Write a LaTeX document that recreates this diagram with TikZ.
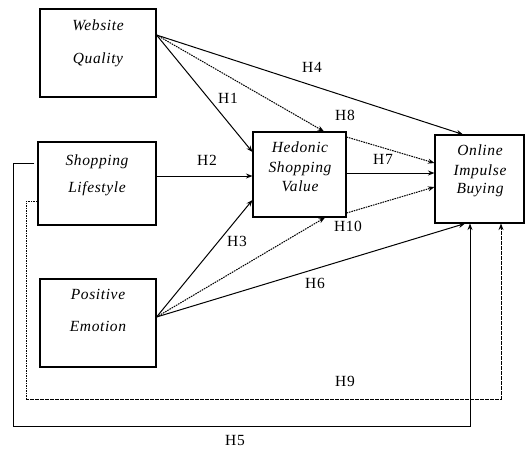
\documentclass[tikz,border=0pt]{standalone}
\usepackage{fontspec}
\setmainfont{Liberation Serif}[LetterSpace=4]
\usetikzlibrary{arrows.meta,calc}
\begin{document}
\begin{tikzpicture}[x=1pt,y=-1pt,
  box/.style={draw=black,line width=1.1pt,inner sep=0pt},
  btxt/.style={anchor=base,inner sep=0pt,font=\fontsize{15.5}{18}\selectfont\itshape},
  hlab/.style={inner sep=0pt,font=\fontsize{15.5}{18}\selectfont},
  conn/.style={line width=1pt,-{Stealth[length=6.5pt,width=5pt]}},
  dconn/.style={line width=1pt,dash pattern=on 1.6pt off 0.9pt,-{Stealth[length=6.5pt,width=5pt]}}]
\useasboundingbox[fill=white] (0,0) rectangle (526,448);
% boxes
\node[box,minimum width=116pt,minimum height=88pt] (wq) at (98,53) {};
\node[box,minimum width=118pt,minimum height=83pt] (sl) at (97,183.5) {};
\node[box,minimum width=116pt,minimum height=88pt] (pe) at (98,323) {};
\node[box,minimum width=93pt,minimum height=85pt] (hsv) at (299.5,174.5) {};
\node[box,minimum width=89pt,minimum height=88pt] (oib) at (479.5,179) {};
% box texts
\node[btxt] (wq1) at (98,30) {Website};
\node[btxt] (wq2) at (98,63) {Quality};
\node[btxt] (sl1) at (97,165) {Shopping};
\node[btxt] (sl2) at (97,192) {Lifestyle};
\node[btxt] (pe1) at (98,299) {Positive};
\node[btxt] (pe2) at (98,331) {Emotion};
\node[btxt] (h1t) at (300,152) {Hedonic};
\node[btxt] (h2t) at (300,172) {Shopping};
\node[btxt] (h3t) at (300,191) {Value};
\node[btxt] (o1t) at (480,155) {Online};
\node[btxt] (o2t) at (480,175) {Impulse};
\node[btxt] (o3t) at (480,193) {Buying};
% connectors from Website Quality
\draw[conn] ([yshift=18pt]wq.east) -- ([yshift=22.5pt]hsv.west);
\draw[dconn] ([yshift=18pt]wq.east) -- ([xshift=24.5pt]hsv.north);
\draw[conn] ([yshift=18pt]wq.east) -- ([xshift=-16.5pt]oib.north);
% from Hedonic
\draw[dconn] ([yshift=37.5pt]hsv.east) -- ([yshift=16pt]oib.west);
\draw[conn] ([yshift=1.5pt]hsv.east) -- ([yshift=6pt]oib.west);
\draw[dconn] ([yshift=-38.5pt]hsv.east) -- ([yshift=-8pt]oib.west);
% from Shopping Lifestyle
\draw[conn] ([yshift=7.5pt]sl.east) -- ([yshift=-1.5pt]hsv.west);
% from Positive Emotion
\draw[conn] ([yshift=6pt]pe.east) -- ([yshift=-25.5pt]hsv.west);
\draw[dconn] ([yshift=6pt]pe.east) -- ([xshift=25.5pt]hsv.south);
\draw[conn] ([yshift=6pt]pe.east) -- ([xshift=-14.5pt]oib.south);
% H5 and H9 loops
\draw[conn] ([xshift=-3pt,yshift=20.5pt]sl.west) -- ++(-21,0) -- ++(0,263) -| ([xshift=-9.5pt]oib.south);
\draw[dconn] ([yshift=-17.5pt]sl.west) -- ++(-11,0) -- ++(0,198) -| ([xshift=21.5pt]oib.south);
% labels
\node[hlab] (lh1) at (228,98) {H1};
\node[hlab] (lh2) at (207,160) {H2};
\node[hlab] (lh3) at (237,241) {H3};
\node[hlab] (lh4) at (312,67) {H4};
\node[hlab] (lh5) at (235,440) {H5};
\node[hlab] (lh6) at (315,283) {H6};
\node[hlab] (lh7) at (383,159) {H7};
\node[hlab] (lh8) at (345,115) {H8};
\node[hlab] (lh9) at (345,381) {H9};
\node[hlab] (lh10) at (348,226) {H10};
\end{tikzpicture}
\end{document}
